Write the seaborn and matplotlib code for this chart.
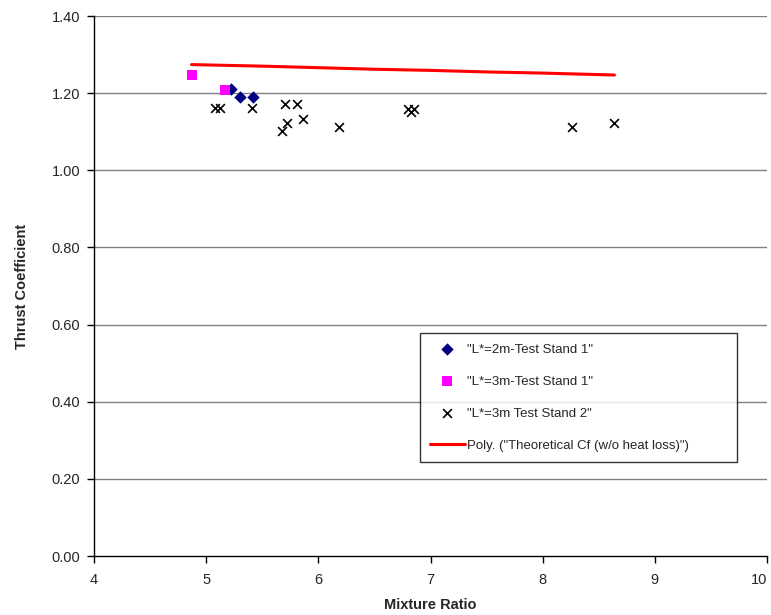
import numpy as np
import pandas as pd
import seaborn as sns
import matplotlib
matplotlib.use("Agg")
from matplotlib import pyplot as plt

# data
mr_2m_ts1 = [5.22, 5.30, 5.42]
cf_2m_ts1 = [1.21, 1.19, 1.19]

mr_3m_ts1 = [4.87, 5.17]
cf_3m_ts1 = [1.247, 1.208]

mr_3m_ts2 = [5.08, 5.12, 5.41, 5.70, 5.81, 5.72, 5.68, 5.86, 6.18,
             6.80, 6.83, 6.85, 8.26, 8.64]
cf_3m_ts2 = [1.162, 1.162, 1.162, 1.172, 1.172, 1.123, 1.102, 1.133, 1.112,
             1.160, 1.152, 1.160, 1.112, 1.123]

mr_theory = [4.87, 5.5, 6.0, 6.5, 7.0, 7.5, 8.0, 8.64]
cf_theory = [1.274, 1.270, 1.266, 1.262, 1.259, 1.255, 1.252, 1.247]

labels = ['"L*=2m-Test Stand 1"', '"L*=3m-Test Stand 1"',
          '"L*=3m Test Stand 2"', 'Poly. ("Theoretical Cf (w/o heat loss)")']

sns.set_style("white")
plt.rcParams['font.family'] = ['Liberation Sans', 'DejaVu Sans']

fig = plt.figure(figsize=(7.71, 6.15), dpi=100)
ax = fig.add_axes([94/771, 59/615, 673/771, 540/615])

# horizontal grid
for yv in np.arange(0.2, 1.41, 0.2):
    ax.axhline(yv, color='#808080', lw=1.0, zorder=0)

sns.scatterplot(x=mr_2m_ts1, y=cf_2m_ts1, marker='D', s=40, color='#000080',
                edgecolor='#000080', linewidth=0, label=labels[0], ax=ax, zorder=2)
sns.scatterplot(x=mr_3m_ts1, y=cf_3m_ts1, marker='s', s=50, color='#FF00FF',
                edgecolor='#FF00FF', linewidth=0, label=labels[1], ax=ax, zorder=3)
sns.scatterplot(x=mr_3m_ts2, y=cf_3m_ts2, marker='x', s=40, color='black',
                linewidth=1.2, label=labels[2], ax=ax, zorder=3)
sns.lineplot(x=mr_theory, y=cf_theory, color='red', lw=2.2, label=labels[3],
             ax=ax, zorder=2)

ax.set_xlim(4, 10)
ax.set_ylim(0, 1.4)
ax.set_xticks(range(4, 11))
ax.set_yticks(np.arange(0, 1.41, 0.2))
ax.set_yticklabels([f"{v:.2f}" for v in np.arange(0, 1.41, 0.2)])
ax.tick_params(axis='both', direction='out', length=5, width=1, color='black',
               labelsize=10.5, left=True, bottom=True)
ax.tick_params(axis='x', pad=7)
ax.tick_params(axis='y', pad=5)
# last x label sits against the right edge, as in the original
ax.get_xticklabels()[-1].set_ha('right')

for side in ['top', 'right']:
    ax.spines[side].set_visible(False)
for side in ['left', 'bottom']:
    ax.spines[side].set_color('black')
    ax.spines[side].set_linewidth(1.0)

ax.set_xlabel('Mixture Ratio', fontsize=10.5, fontweight='bold', labelpad=8)
ax.set_ylabel('Thrust Coefficient', fontsize=10.5, fontweight='bold', labelpad=16)

leg = ax.legend(loc='upper left', bbox_to_anchor=(0.484, 0.169, 0.471, 0.244),
                mode='expand', fontsize=9.5,
                frameon=True, fancybox=False, edgecolor='black',
                labelspacing=1.5, handlelength=2.6, borderpad=0.8,
                handletextpad=0.15, borderaxespad=0)
leg.get_frame().set_linewidth(1.0)

fig.savefig('out.png', dpi=100)
